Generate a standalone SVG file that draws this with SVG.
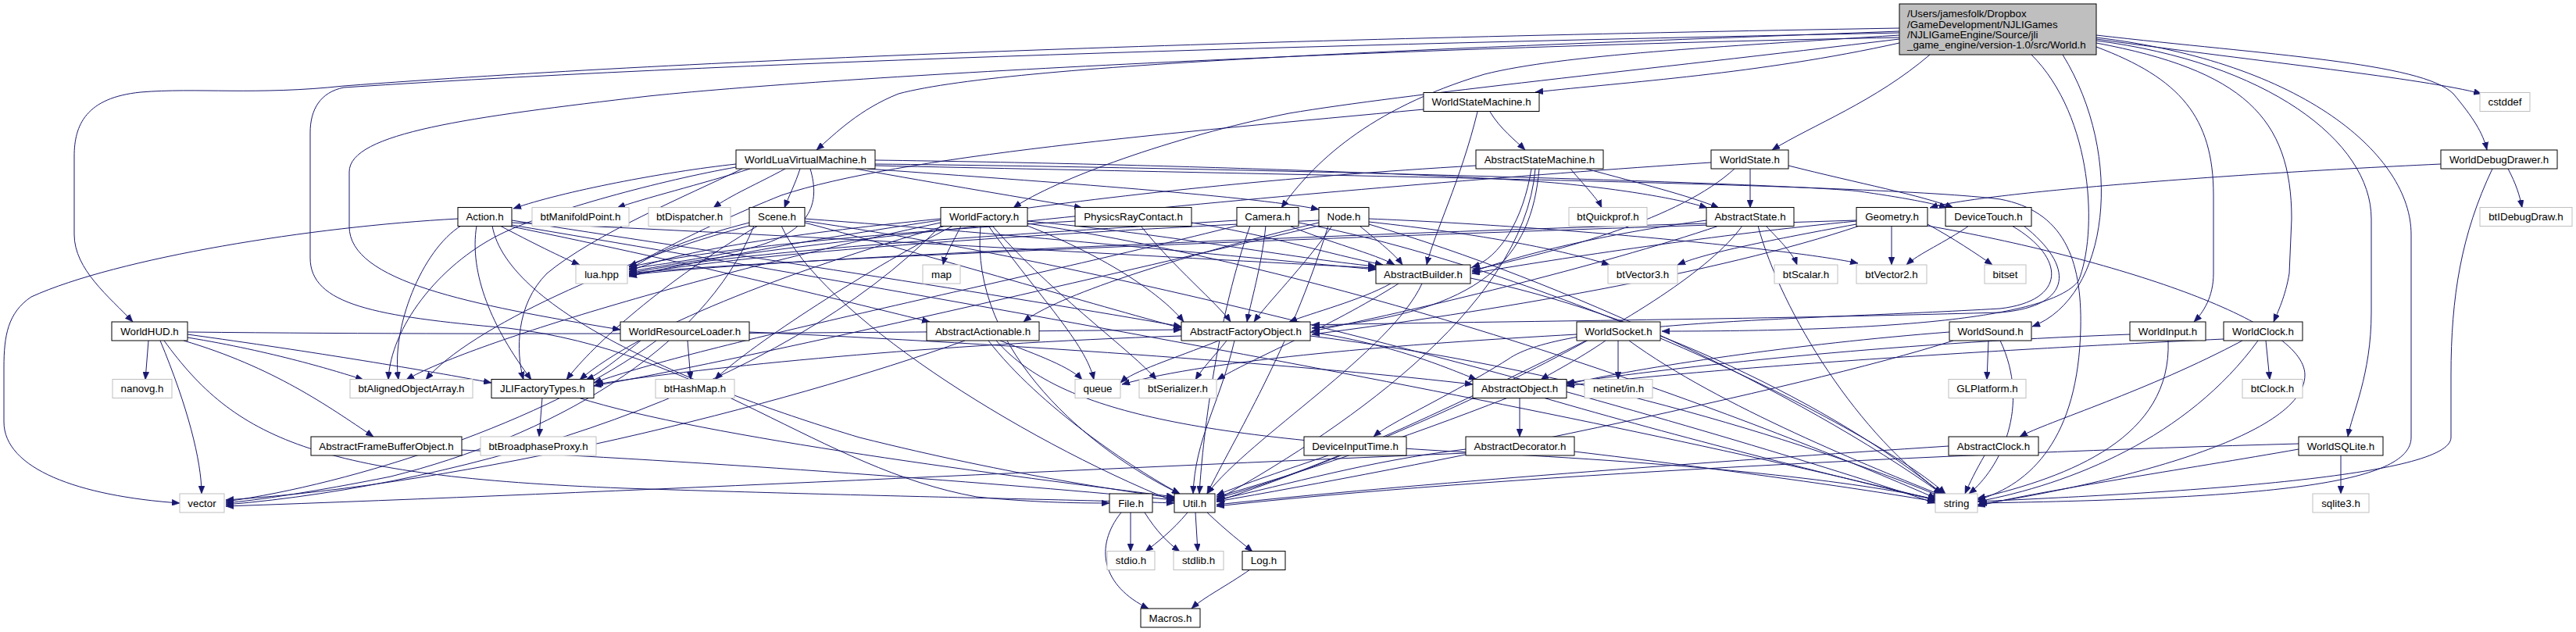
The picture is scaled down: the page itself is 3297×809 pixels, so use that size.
<svg xmlns="http://www.w3.org/2000/svg" width="3297" height="809" viewBox="0 0 3297 809">
<style>
rect{fill:#fff;stroke:#000;stroke-width:1}
.x rect{stroke:#bfbfbf}
.root rect{fill:#bfbfbf}
text{font-family:"Liberation Sans",Arial,Helvetica,sans-serif;font-size:13.33px;fill:#000;text-anchor:middle}
.root text{text-anchor:start}
#edges path{fill:none;stroke:#191970;stroke-width:1;marker-end:url(#ah)}
</style>
<defs>
<marker id="ah" markerUnits="userSpaceOnUse" markerWidth="11" markerHeight="8" refX="10" refY="4" orient="auto"><path d="M0,0 L10,4 L0,8 z" fill="#191970" stroke="#191970" stroke-width="0.5"/></marker>
</defs>
<rect x="0" y="0" width="3297" height="809" style="fill:#fff;stroke:none"/>
<g id="edges">
<path d="M2431,55 C2250,95 2080,105 1965,118"/>
<path d="M2683,50 C2900,80 3100,100 3176,120"/>
<path d="M2431,40 C1900,60 1300,80 1150,120 C1100,140 1070,170 1045,192"/>
<path d="M2470,70 C2400,130 2320,160 2268,192"/>
<path d="M2683,45 C2900,70 3100,80 3140,120 C3165,150 3178,170 3183,192"/>
<path d="M2431,50 C2100,90 1800,120 1650,145 C1500,175 1350,230 1297,266"/>
<path d="M2431,45 C2200,60 2000,70 1900,95 C1750,140 1680,210 1640,266"/>
<path d="M2431,36 C1600,50 900,75 440,110 C330,122 250,112 180,118 C110,125 95,160 95,200 L95,300 C95,345 140,380 170,412"/>
<path d="M2431,48 C1800,60 1100,95 830,123 C600,150 447,170 447,220 L447,290 C447,360 600,390 794,422"/>
<path d="M2431,42 C1800,55 1000,75 440,112 C410,118 397,140 397,170 L397,330 C397,390 480,405 650,420 C900,450 1050,600 1250,636 C1330,644 1390,644 1420,644"/>
<path d="M2600,70 C2680,150 2685,300 2660,360 C2620,410 2400,424 2127,424"/>
<path d="M2640,70 C2720,200 2700,380 2601,418"/>
<path d="M2683,60 C2790,100 2833,150 2833,250 L2833,350 C2833,380 2820,400 2808,412"/>
<path d="M2683,55 C2870,90 2933,150 2933,280 L2930,350 C2925,380 2915,400 2910,412"/>
<path d="M2683,52 C2900,80 3035,180 3035,280 L3035,400 C3035,480 3010,530 3005,559"/>
<path d="M2683,48 C2950,80 3086,200 3086,300 L3086,560 C3086,620 2900,638 2533,644"/>
<path d="M1907,143 C1920,165 1940,180 1952,192"/>
<path d="M1891,143 C1870,230 1835,300 1826,339"/>
<path d="M1822,140 C1500,170 1150,200 1000,250 C900,290 840,325 805,341"/>
<path d="M942,210 C850,220 720,245 657,267"/>
<path d="M960,216 C900,235 820,255 790,266"/>
<path d="M1005,216 C970,235 935,250 913,266"/>
<path d="M1024,216 C1018,235 1010,250 1004,266"/>
<path d="M1095,216 C1200,235 1320,255 1385,266"/>
<path d="M1110,216 C1300,230 1600,250 1688,268"/>
<path d="M1037,216 C1050,260 1040,300 950,320 C880,335 830,340 805,344"/>
<path d="M1120,205 C1500,210 1900,225 2000,235 C2100,245 2160,258 2185,266"/>
<path d="M1120,210 C1600,215 2300,235 2380,245 C2450,255 2480,262 2492,266"/>
<path d="M1120,212 C1700,225 2400,235 2560,255 C2640,270 2665,330 2663,420 C2660,560 2600,620 2531,640"/>
<path d="M942,214 C850,230 700,270 640,300 C560,340 500,420 497,486"/>
<path d="M950,216 C880,250 760,300 700,350 C660,390 660,450 670,486"/>
<path d="M640,289 C680,310 720,330 742,339"/>
<path d="M586,280 C400,290 150,330 40,380 C10,400 5,430 5,470 L5,540 C5,600 100,635 230,644"/>
<path d="M610,289 C600,350 630,420 680,486"/>
<path d="M590,289 C540,320 500,420 510,486"/>
<path d="M655,282 C900,320 1300,380 1512,418"/>
<path d="M655,285 C1000,300 1500,330 1761,343"/>
<path d="M630,289 C650,400 900,500 1100,560 C1300,610 1450,630 1505,638"/>
<path d="M655,288 C1200,380 2000,520 2477,640"/>
<path d="M650,289 C900,340 1100,390 1190,412"/>
<path d="M959,285 C900,300 840,320 805,346"/>
<path d="M1030,280 C1300,300 1600,330 1761,345"/>
<path d="M1030,285 C1200,330 1400,390 1512,420"/>
<path d="M959,289 C800,330 600,420 545,486"/>
<path d="M970,289 C850,360 760,440 725,486"/>
<path d="M1000,289 C1050,400 1300,560 1503,642"/>
<path d="M1030,283 C1500,350 2200,550 2477,644"/>
<path d="M965,289 C900,450 700,560 500,610 C400,630 330,640 289,644"/>
<path d="M1230,289 C1220,310 1210,325 1207,339"/>
<path d="M1204,280 C1000,300 850,325 805,348"/>
<path d="M1315,283 C1500,300 1650,330 1761,341"/>
<path d="M1315,289 C1420,330 1490,380 1515,412"/>
<path d="M1210,289 C1000,350 820,420 742,486"/>
<path d="M1204,285 C900,350 600,440 520,486"/>
<path d="M1220,289 C1100,350 950,450 915,486"/>
<path d="M1270,289 C1350,380 1450,450 1480,486"/>
<path d="M1265,289 C1330,380 1390,440 1400,486"/>
<path d="M1255,289 C1240,450 1400,580 1510,632"/>
<path d="M1315,286 C1800,360 2300,560 2478,638"/>
<path d="M1204,289 C1000,500 600,620 289,646"/>
<path d="M1460,289 C1500,340 1560,390 1575,412"/>
<path d="M1525,285 C1620,300 1700,325 1770,339"/>
<path d="M1376,283 C1100,300 900,320 805,342"/>
<path d="M1620,289 C1615,340 1600,390 1596,412"/>
<path d="M1650,289 C1700,310 1760,325 1785,339"/>
<path d="M1583,282 C1300,300 950,320 805,350"/>
<path d="M1583,289 C1300,360 900,440 760,490"/>
<path d="M1600,289 C1560,400 1540,550 1535,632"/>
<path d="M1662,285 C2000,350 2400,550 2490,632"/>
<path d="M1705,289 C1670,340 1620,390 1605,412"/>
<path d="M1740,289 C1765,310 1785,325 1795,339"/>
<path d="M1688,285 C1500,330 1350,380 1310,412"/>
<path d="M1688,282 C1300,300 950,325 805,352"/>
<path d="M1752,284 C1900,300 2000,320 2060,339"/>
<path d="M1752,280 C2000,290 2300,320 2378,337"/>
<path d="M1688,289 C1300,380 950,460 760,494"/>
<path d="M1700,289 C1650,450 1580,560 1545,632"/>
<path d="M1752,287 C2000,360 2300,500 2485,632"/>
<path d="M2010,216 C2030,240 2045,255 2050,266"/>
<path d="M2030,216 C2100,235 2160,250 2200,266"/>
<path d="M1960,216 C1950,280 1920,330 1884,342"/>
<path d="M1970,216 C1960,330 1900,400 1679,420"/>
<path d="M1965,216 C1950,400 1700,560 1557,640"/>
<path d="M1889,212 C1400,240 1000,310 805,354"/>
<path d="M2240,216 L2240,266"/>
<path d="M2289,212 C2380,235 2460,250 2500,266"/>
<path d="M2220,216 C2150,280 2000,320 1884,346"/>
<path d="M2190,208 C1700,240 1000,310 805,348"/>
<path d="M2260,289 C2280,310 2295,325 2300,339"/>
<path d="M2184,282 C2050,300 1950,325 1884,348"/>
<path d="M2200,289 C2050,340 1800,400 1679,424"/>
<path d="M2230,289 C2150,400 1800,560 1557,642"/>
<path d="M2250,289 C2280,400 2380,560 2490,634"/>
<path d="M2184,286 C1700,300 1000,330 805,352"/>
<path d="M2421,289 L2421,339"/>
<path d="M2376,287 C2250,310 2180,325 2147,339"/>
<path d="M2467,287 C2500,305 2530,325 2550,339"/>
<path d="M2376,283 C2200,300 2000,330 1884,350"/>
<path d="M2380,289 C2200,350 1900,400 1679,428"/>
<path d="M2376,282 C1800,300 1000,330 805,350"/>
<path d="M2467,289 C2700,330 2950,410 2950,480 C2950,560 2700,620 2531,646"/>
<path d="M2520,289 C2490,310 2455,325 2440,339"/>
<path d="M2575,289 C2645,330 2645,385 2560,395 C2300,410 2000,410 1930,460 C1850,510 1780,540 1758,559"/>
<path d="M2590,289 C2655,340 2655,392 2560,400 C2200,410 1850,412 1679,416"/>
<path d="M1780,363 C1740,385 1680,400 1650,412"/>
<path d="M1820,363 C1780,450 1600,560 1545,632"/>
<path d="M1882,356 C2100,400 2350,520 2485,632"/>
<path d="M1790,363 C1700,420 1600,460 1558,486"/>
<path d="M1677,425 C1780,440 1850,470 1890,486"/>
<path d="M1570,436 C1555,455 1540,470 1530,486"/>
<path d="M1580,436 C1560,520 1530,560 1527,632"/>
<path d="M1512,430 C1200,440 900,470 762,492"/>
<path d="M1677,430 C2000,470 2300,560 2485,636"/>
<path d="M1560,436 C1500,460 1450,475 1434,490"/>
<path d="M1280,436 C1330,455 1370,470 1385,486"/>
<path d="M1265,436 C1330,520 1450,600 1510,632"/>
<path d="M1275,436 C1350,520 1500,560 1900,580 C2200,595 2400,620 2480,640"/>
<path d="M1235,436 C1000,520 600,620 289,640"/>
<path d="M880,436 L884,486"/>
<path d="M959,425 C1300,440 1700,470 1885,492"/>
<path d="M820,436 C790,460 765,480 750,486"/>
<path d="M840,436 C700,540 450,620 289,642"/>
<path d="M190,436 L186,486"/>
<path d="M205,436 C240,520 258,590 258,632"/>
<path d="M240,432 C350,450 430,475 465,486"/>
<path d="M240,428 C400,450 550,475 629,490"/>
<path d="M235,436 C350,470 420,520 478,559"/>
<path d="M240,425 C700,430 1200,425 1512,422"/>
<path d="M210,436 C300,560 400,610 800,625 C1100,635 1400,640 1503,644"/>
<path d="M2055,436 C2020,460 1990,475 1972,486"/>
<path d="M2071,436 L2071,486"/>
<path d="M2085,436 C2200,520 2400,600 2485,634"/>
<path d="M2030,436 C1900,500 1700,600 1557,638"/>
<path d="M2018,428 C1800,440 1550,460 1436,492"/>
<path d="M2545,436 L2543,486"/>
<path d="M2560,436 C2600,520 2560,600 2520,632"/>
<path d="M2495,425 C2300,440 2100,470 2005,492"/>
<path d="M2500,436 C2300,500 1800,600 1557,642"/>
<path d="M2775,436 C2780,560 2650,610 2531,638"/>
<path d="M2726,428 C2400,440 2150,470 2005,490"/>
<path d="M2900,436 L2905,486"/>
<path d="M2870,436 C2750,500 2620,540 2585,559"/>
<path d="M2890,436 C2800,560 2650,620 2531,642"/>
<path d="M2846,434 C2500,450 2150,475 2005,494"/>
<path d="M2540,583 C2530,600 2520,620 2515,632"/>
<path d="M2494,571 C2200,590 1800,620 1557,646"/>
<path d="M2996,583 L2996,632"/>
<path d="M2942,575 C2800,600 2600,630 2531,648"/>
<path d="M2942,568 C2500,580 1900,610 1557,648"/>
<path d="M1945,509 L1945,559"/>
<path d="M1975,509 C2150,560 2350,610 2477,640"/>
<path d="M1930,509 C1800,560 1650,610 1557,636"/>
<path d="M1876,575 C1750,590 1650,620 1557,640"/>
<path d="M2015,578 C2200,600 2380,625 2477,642"/>
<path d="M1876,580 C1400,600 800,630 289,648"/>
<path d="M1700,583 C1650,600 1590,620 1557,634"/>
<path d="M694,509 L690,559"/>
<path d="M740,509 C900,560 1300,610 1503,636"/>
<path d="M591,576 C900,590 1300,620 1503,640"/>
<path d="M1447,656 L1447,706"/>
<path d="M1465,656 C1480,680 1495,695 1510,706"/>
<path d="M1435,656 C1400,700 1410,750 1470,779"/>
<path d="M1520,656 C1500,680 1480,695 1466,706"/>
<path d="M1530,656 L1533,706"/>
<path d="M1545,656 C1570,680 1590,695 1603,706"/>
<path d="M1600,729 C1570,750 1540,765 1525,779"/>
<path d="M3210,216 C3220,235 3225,250 3228,266"/>
<path d="M3190,216 C3150,300 3137,380 3137,480 L3137,560 C3137,610 2800,630 2531,642"/>
<path d="M3124,210 C2800,225 2520,250 2470,266"/>
</g>
<g id="n_world" class="root"><rect x="2431" y="5" width="252" height="65"/><text x="2441" y="22">/Users/jamesfolk/Dropbox</text><text x="2441" y="35.5">/GameDevelopment/NJLIGames</text><text x="2441" y="48.5">/NJLIGameEngine/Source/jli</text><text x="2441" y="62">_game_engine/version-1.0/src/World.h</text></g>
<g id="n_wsm"><rect x="1822" y="118.5" width="148" height="24"/><text x="1896" y="135">WorldStateMachine.h</text></g>
<g id="n_cstddef" class="x"><rect x="3174" y="118.5" width="64" height="24"/><text x="3206" y="135">cstddef</text></g>
<g id="n_wlvm"><rect x="942" y="192" width="178" height="24"/><text x="1031" y="208.5">WorldLuaVirtualMachine.h</text></g>
<g id="n_asm"><rect x="1889" y="192" width="163" height="24"/><text x="1970.5" y="208.5">AbstractStateMachine.h</text></g>
<g id="n_ws"><rect x="2190" y="192" width="99" height="24"/><text x="2239.5" y="208.5">WorldState.h</text></g>
<g id="n_wdd"><rect x="3124" y="192" width="149" height="24"/><text x="3198.5" y="208.5">WorldDebugDrawer.h</text></g>
<g id="n_action"><rect x="586" y="265.5" width="69" height="24"/><text x="620.5" y="282">Action.h</text></g>
<g id="n_btmp" class="x"><rect x="681" y="265.5" width="124" height="24"/><text x="743" y="282">btManifoldPoint.h</text></g>
<g id="n_btd" class="x"><rect x="830" y="265.5" width="105" height="24"/><text x="882.5" y="282">btDispatcher.h</text></g>
<g id="n_scene"><rect x="959" y="265.5" width="71" height="24"/><text x="994.5" y="282">Scene.h</text></g>
<g id="n_wf"><rect x="1204" y="265.5" width="111" height="24"/><text x="1259.5" y="282">WorldFactory.h</text></g>
<g id="n_prc"><rect x="1376" y="265.5" width="149" height="24"/><text x="1450.5" y="282">PhysicsRayContact.h</text></g>
<g id="n_cam"><rect x="1583" y="265.5" width="79" height="24"/><text x="1622.5" y="282">Camera.h</text></g>
<g id="n_node"><rect x="1688" y="265.5" width="64" height="24"/><text x="1720" y="282">Node.h</text></g>
<g id="n_btq" class="x"><rect x="2008" y="265.5" width="100" height="24"/><text x="2058" y="282">btQuickprof.h</text></g>
<g id="n_as"><rect x="2184" y="265.5" width="112" height="24"/><text x="2240" y="282">AbstractState.h</text></g>
<g id="n_geo"><rect x="2376" y="265.5" width="91" height="24"/><text x="2421.5" y="282">Geometry.h</text></g>
<g id="n_dt"><rect x="2490" y="265.5" width="110" height="24"/><text x="2545" y="282">DeviceTouch.h</text></g>
<g id="n_btidd" class="x"><rect x="3174" y="265.5" width="118" height="24"/><text x="3233" y="282">btIDebugDraw.h</text></g>
<g id="n_lua" class="x"><rect x="737" y="339" width="66" height="24"/><text x="770" y="355.5">lua.hpp</text></g>
<g id="n_map" class="x"><rect x="1181" y="339" width="48" height="24"/><text x="1205" y="355.5">map</text></g>
<g id="n_ab"><rect x="1761" y="339" width="121" height="24"/><text x="1821.5" y="355.5">AbstractBuilder.h</text></g>
<g id="n_btv3" class="x"><rect x="2058" y="339" width="89" height="24"/><text x="2102.5" y="355.5">btVector3.h</text></g>
<g id="n_bts" class="x"><rect x="2271" y="339" width="81" height="24"/><text x="2311.5" y="355.5">btScalar.h</text></g>
<g id="n_btv2" class="x"><rect x="2376" y="339" width="90" height="24"/><text x="2421" y="355.5">btVector2.h</text></g>
<g id="n_bitset" class="x"><rect x="2540" y="339" width="53" height="24"/><text x="2566.5" y="355.5">bitset</text></g>
<g id="n_hud"><rect x="143" y="412" width="97" height="24"/><text x="191.5" y="428.5">WorldHUD.h</text></g>
<g id="n_wrl"><rect x="794" y="412" width="165" height="24"/><text x="876.5" y="428.5">WorldResourceLoader.h</text></g>
<g id="n_aa"><rect x="1186" y="412" width="144" height="24"/><text x="1258" y="428.5">AbstractActionable.h</text></g>
<g id="n_afo"><rect x="1512" y="412" width="165" height="24"/><text x="1594.5" y="428.5">AbstractFactoryObject.h</text></g>
<g id="n_wsock"><rect x="2018" y="412" width="107" height="24"/><text x="2071.5" y="428.5">WorldSocket.h</text></g>
<g id="n_wsnd"><rect x="2495" y="412" width="105" height="24"/><text x="2547.5" y="428.5">WorldSound.h</text></g>
<g id="n_win"><rect x="2726" y="412" width="97" height="24"/><text x="2774.5" y="428.5">WorldInput.h</text></g>
<g id="n_wclk"><rect x="2846" y="412" width="101" height="24"/><text x="2896.5" y="428.5">WorldClock.h</text></g>
<g id="n_nanovg" class="x"><rect x="144" y="485.5" width="76" height="24"/><text x="182" y="502">nanovg.h</text></g>
<g id="n_btaoa" class="x"><rect x="448" y="485.5" width="157" height="24"/><text x="526.5" y="502">btAlignedObjectArray.h</text></g>
<g id="n_jli"><rect x="629" y="485.5" width="131" height="24"/><text x="694.5" y="502">JLIFactoryTypes.h</text></g>
<g id="n_bthm" class="x"><rect x="839" y="485.5" width="101" height="24"/><text x="889.5" y="502">btHashMap.h</text></g>
<g id="n_queue" class="x"><rect x="1376" y="485.5" width="58" height="24"/><text x="1405" y="502">queue</text></g>
<g id="n_btser" class="x"><rect x="1458" y="485.5" width="99" height="24"/><text x="1507.5" y="502">btSerializer.h</text></g>
<g id="n_ao"><rect x="1885" y="485.5" width="120" height="24"/><text x="1945" y="502">AbstractObject.h</text></g>
<g id="n_netinet" class="x"><rect x="2028" y="485.5" width="87" height="24"/><text x="2071.5" y="502">netinet/in.h</text></g>
<g id="n_glp" class="x"><rect x="2494" y="485.5" width="99" height="24"/><text x="2543.5" y="502">GLPlatform.h</text></g>
<g id="n_btclk" class="x"><rect x="2870" y="485.5" width="77" height="24"/><text x="2908.5" y="502">btClock.h</text></g>
<g id="n_afbo"><rect x="398" y="559" width="193" height="24"/><text x="494.5" y="575.5">AbstractFrameBufferObject.h</text></g>
<g id="n_btbp" class="x"><rect x="615" y="559" width="148" height="24"/><text x="689" y="575.5">btBroadphaseProxy.h</text></g>
<g id="n_dit"><rect x="1669" y="559" width="131" height="24"/><text x="1734.5" y="575.5">DeviceInputTime.h</text></g>
<g id="n_adec"><rect x="1876" y="559" width="139" height="24"/><text x="1945.5" y="575.5">AbstractDecorator.h</text></g>
<g id="n_aclk"><rect x="2494" y="559" width="115" height="24"/><text x="2551.5" y="575.5">AbstractClock.h</text></g>
<g id="n_wsql"><rect x="2942" y="559" width="108" height="24"/><text x="2996" y="575.5">WorldSQLite.h</text></g>
<g id="n_vector" class="x"><rect x="230" y="632" width="57" height="24"/><text x="258.5" y="648.5">vector</text></g>
<g id="n_file"><rect x="1420" y="632" width="55" height="24"/><text x="1447.5" y="648.5">File.h</text></g>
<g id="n_util"><rect x="1503" y="632" width="52" height="24"/><text x="1529" y="648.5">Util.h</text></g>
<g id="n_string" class="x"><rect x="2477" y="632" width="54" height="24"/><text x="2504" y="648.5">string</text></g>
<g id="n_sqlite3" class="x"><rect x="2960" y="632" width="72" height="24"/><text x="2996" y="648.5">sqlite3.h</text></g>
<g id="n_stdio" class="x"><rect x="1417" y="705.5" width="61" height="24"/><text x="1447.5" y="722">stdio.h</text></g>
<g id="n_stdlib" class="x"><rect x="1502" y="705.5" width="64" height="24"/><text x="1534" y="722">stdlib.h</text></g>
<g id="n_log"><rect x="1590" y="705.5" width="55" height="24"/><text x="1617.5" y="722">Log.h</text></g>
<g id="n_macros"><rect x="1460" y="779" width="76" height="24"/><text x="1498" y="795.5">Macros.h</text></g>
</svg>
